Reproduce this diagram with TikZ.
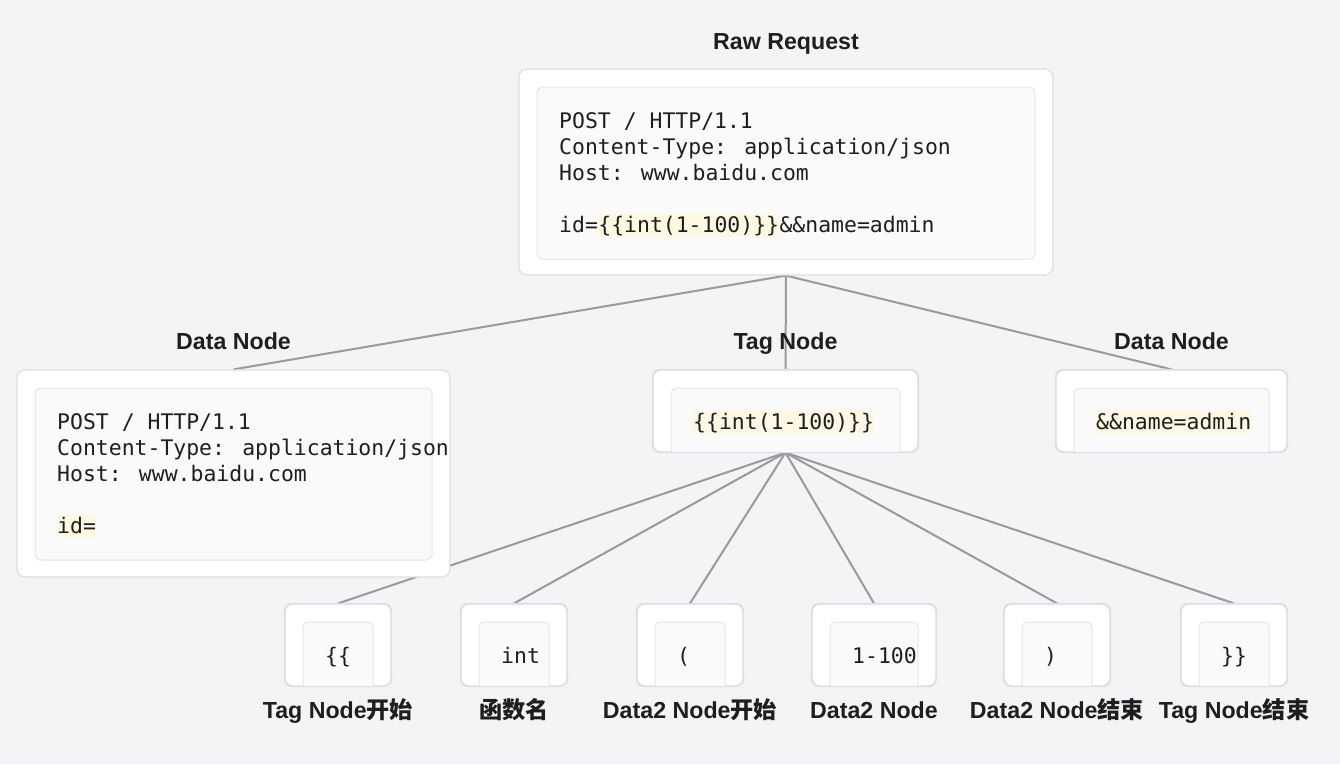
\documentclass[tikz,border=0pt]{standalone}
\usepackage{fontspec}
\setmainfont{Liberation Sans}
\newfontfamily\labfont{Liberation Sans}
\newfontfamily\cjk{Noto Sans CJK SC}
\newfontfamily\codefont{DejaVu Sans Mono}
\definecolor{bgc}{HTML}{F4F4F6}
\definecolor{cardline}{HTML}{DEDEE0}
\definecolor{innerfill}{HTML}{FAFAFA}
\definecolor{innerline}{HTML}{E6E6E8}
\definecolor{hl}{HTML}{FDF8E2}
\definecolor{conncol}{HTML}{9A9A9C}
\definecolor{txt}{HTML}{1E1E1E}
\pgfdeclarelayer{bgl}
\pgfdeclarelayer{lines}
\pgfsetlayers{bgl,lines,main}
\newcommand\cutinner[4]{%
  \fill[innerfill, rounded corners=6pt] (#1,#3) rectangle (#2,#4);
  \fill[innerfill] (#1,#3+10) rectangle (#2,#4);
  \draw[innerline, line width=1pt, rounded corners=6pt] (#1,#4) -- (#1,#3) -- (#2,#3) -- (#2,#4);
}
\begin{document}
\begin{tikzpicture}[x=1pt,y=-1pt,
  card/.style={rectangle, fill=white, draw=cardline, line width=1.2pt, rounded corners=8pt, inner sep=0pt},
  cardedge/.style={draw=cardline, line width=1.2pt, rounded corners=8pt},
  fullinner/.style={fill=innerfill, draw=innerline, line width=1pt, rounded corners=6pt},
  conn/.style={draw=conncol, line width=2pt},
  lab/.style={font=\labfont\bfseries\fontsize{23.2}{27}\selectfont, text=txt, anchor=base, inner sep=0pt},
  code/.style={font=\codefont\fontsize{21.45}{26}\selectfont, text=txt, anchor=base west, inner sep=0pt, text height=18pt, text depth=5pt},
  hlt/.style={code, fill=hl}
]
\useasboundingbox (0,0) rectangle (1340,764);
\begin{pgfonlayer}{bgl}
\fill[bgc] (0,0) rectangle (1340,764);
\end{pgfonlayer}

% ---------- cards ----------
\node[card, minimum width=534pt, minimum height=206pt] (raw) at (786,172) {};
\node[card, minimum width=433pt, minimum height=207pt] (dl) at (233.5,473.5) {};
\node[card, minimum width=265pt, minimum height=82pt] (tg) at (785.5,411) {};
\node[card, minimum width=231pt, minimum height=82pt] (dr) at (1171.5,411) {};
\node[card, minimum width=106pt, minimum height=82pt] (b1) at (338,645) {};
\node[card, minimum width=106pt, minimum height=82pt] (b2) at (514,645) {};
\node[card, minimum width=106pt, minimum height=82pt] (b3) at (690,645) {};
\node[card, minimum width=124pt, minimum height=82pt] (b4) at (874,645) {};
\node[card, minimum width=106pt, minimum height=82pt] (b5) at (1057,645) {};
\node[card, minimum width=106pt, minimum height=82pt] (b6) at (1234,645) {};

% ---------- connectors ----------
\begin{pgfonlayer}{lines}
\draw[conn] (raw.south) -- (dl.north);
\draw[conn] (raw.south) -- (tg.north);
\draw[conn] (raw.south) -- (dr.north);
\foreach \b in {b1,b2,b3,b4,b5,b6}{\draw[conn] (tg.south) -- (\b.north);}
\end{pgfonlayer}

% ---------- inner boxes ----------
\draw[fullinner] (537,87) rectangle (1035,259);
\draw[fullinner] (35,388) rectangle (432,560);
\cutinner{671}{900}{388}{452}
\cutinner{1074}{1269}{388}{452}
\cutinner{303}{373}{622}{686}
\cutinner{479}{549}{622}{686}
\cutinner{655}{725}{622}{686}
\cutinner{830}{918}{622}{686}
\cutinner{1022}{1092}{622}{686}
\cutinner{1199}{1269}{622}{686}
\foreach \c in {tg,dr,b1,b2,b3,b4,b5,b6}{\draw[cardedge] (\c.south west) rectangle (\c.north east);}

% ---------- titles ----------
\node[lab] (traw) at (786,49) {Raw Request};
\node[lab] (tdl) at (233.5,349) {Data Node};
\node[lab] (ttg) at (785.5,349) {Tag Node};
\node[lab] (tdr) at (1171.5,349) {Data Node};
\node[lab] (lb1) at (338,718) {Tag Node{\cjk\bfseries 开始}};
\node[lab] (lb2) at (514,718) {{\cjk\bfseries 函数名}};
\node[lab] (lb3) at (690,718) {Data2 Node{\cjk\bfseries 开始}};
\node[lab] (lb4) at (874,718) {Data2 Node};
\node[lab] (lb5) at (1057,718) {Data2 Node{\cjk\bfseries 结束}};
\node[lab] (lb6) at (1234,718) {Tag Node{\cjk\bfseries 结束}};

% ---------- code text ----------
\node[code] (r1) at (559,128) {POST / HTTP/1.1};
\node[code] (r2) at (559,154) {Content-Type: application/json};
\node[code] (r3) at (559,180) {Host: www.baidu.com};
\node[code] (r4) at (559,232) {id=};
\node[hlt] (r5) at (r4.base east) {\{\{int(1-100)\}\}};
\node[code] (r6) at (r5.base east) {\&\&name=admin};

\node[code] (d1) at (57,429) {POST / HTTP/1.1};
\node[code] (d2) at (57,455) {Content-Type: application/json};
\node[code] (d3) at (57,481) {Host: www.baidu.com};
\node[hlt] (d4) at (57,533) {id=};

\node[hlt] (tgt) at (693,429) {\{\{int(1-100)\}\}};
\node[hlt] (drt) at (1096,429) {\&\&name=admin};

\node[code] (c1) at (325,663) {\{\{};
\node[code] (c2) at (501,663) {int};
\node[code] (c3) at (677,663) {(};
\node[code] (c4) at (852,663) {1-100};
\node[code] (c5) at (1044,663) {)};
\node[code] (c6) at (1221,663) {\}\}};
\end{tikzpicture}
\end{document}
